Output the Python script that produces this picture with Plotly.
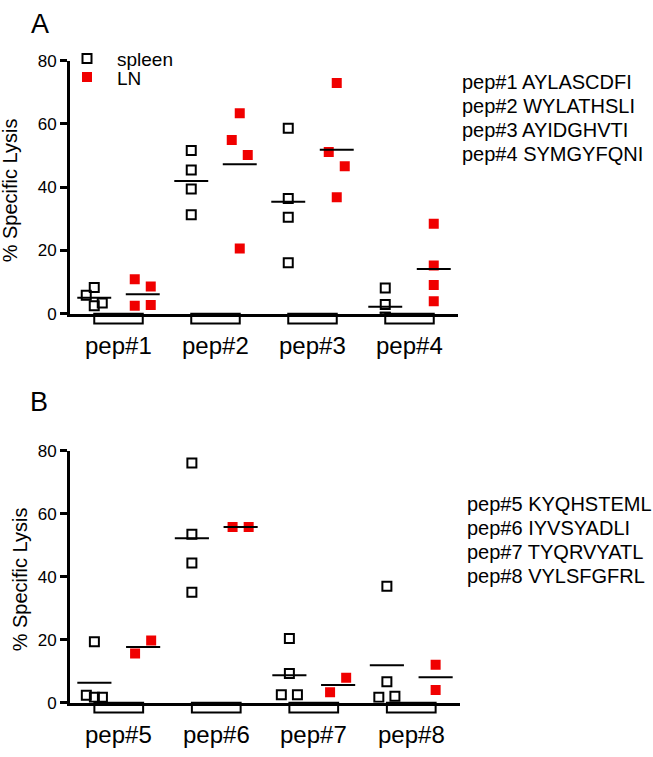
import plotly.graph_objects as go
import numpy as np

# ---------------- data ----------------
peptides_A = ["pep#1", "pep#2", "pep#3", "pep#4"]
peptides_B = ["pep#5", "pep#6", "pep#7", "pep#8"]
sequences_A = ["AYLASCDFI", "WYLATHSLI", "AYIDGHVTI", "SYMGYFQNI"]
sequences_B = ["KYQHSTEML", "IYVSYADLI", "TYQRVYATL", "VYLSFGFRL"]

spleen_A = [[5.8, 8.3, 2.5, 3.4], [51.6, 45.4, 39.4, 31.3],
            [58.6, 36.4, 30.5, 16.1], [8.1, 2.9, -1.1, -1.1]]
ln_A = [[10.9, 8.6, 2.5, 2.7], [63.4, 54.9, 50.2, 20.6],
        [72.9, 51.1, 46.6, 36.8], [28.4, 15.2, 9.1, 3.9]]
spleen_B = [[2.4, 19.4, 1.8, 1.8], [76.2, 53.5, 44.4, 35.1],
            [2.6, 20.4, 9.3, 2.6], [37.0, 6.7, 1.8, 2.1]]
ln_B = [[15.7, 19.8], [55.8, 55.8], [3.4, 8.0], [12.1, 4.1]]

# jitter slots (Prism-style scatter spreading of overlapping points)
spleen_A_jit = [[-1, 0, 0, 1], [0, 0, 0, 0], [0, 0, 0, 0], [0, 0, 0, 0]]
ln_A_jit = [[-1, 1, -1, 1], [0, -1, 1, 0], [0, -1, 1, 0], [0, 0, 0, 0]]
spleen_B_jit = [[-1, 0, 0, 1], [0, 0, 0, 0], [-1, 0, 0, 1], [0, 0, -1, 1]]
ln_B_jit = [[-1, 1], [-1, 1], [-1, 1], [0, 0]]

yticks = [0, 20, 40, 60, 80]

# ---------------- style ----------------
W, H = 653, 757
RED = "#f00000"
FONT = "Liberation Sans, Arial, sans-serif"
JSTEP = 0.165
MEAN_HALF = 0.35


def px_x(p):
    return p / W


def px_y(p):
    return 1 - p / H


fig = go.Figure()


def add_panel(xa, ya, spleen, ln, sj, lj, show_legend):
    xs, ys, xl, yl = [], [], [], []
    mx, my = [], []
    for g in range(len(spleen)):
        cs, cl = 2 * g, 2 * g + 1
        for v, j in zip(spleen[g], sj[g]):
            xs.append(cs + j * JSTEP)
            ys.append(v)
        for v, j in zip(ln[g], lj[g]):
            xl.append(cl + j * JSTEP)
            yl.append(v)
        for c, vals in ((cs, spleen[g]), (cl, ln[g])):
            m = float(np.mean(vals))
            mx += [c - MEAN_HALF, c + MEAN_HALF, None]
            my += [m, m, None]
    fig.add_trace(go.Scatter(
        x=xs, y=ys, mode="markers", name="spleen", xaxis=xa, yaxis=ya,
        marker=dict(symbol="square-open", size=9, color="black",
                    line=dict(width=2, color="black")),
        showlegend=show_legend, legend="legend"))
    fig.add_trace(go.Scatter(
        x=xl, y=yl, mode="markers", name="LN", xaxis=xa, yaxis=ya,
        marker=dict(symbol="square", size=10, color=RED, line=dict(width=0)),
        showlegend=show_legend, legend="legend2"))
    fig.add_trace(go.Scatter(
        x=mx, y=my, mode="lines", xaxis=xa, yaxis=ya, showlegend=False,
        line=dict(color="black", width=2), hoverinfo="skip"))


add_panel("x", "y", spleen_A, ln_A, spleen_A_jit, ln_A_jit, True)
add_panel("x2", "y2", spleen_B, ln_B, spleen_B_jit, ln_B_jit, False)

shapes, annotations = [], []
for xr, yr, peps in (("x", "y", peptides_A), ("x2", "y2", peptides_B)):
    for g, name in enumerate(peps):
        shapes.append(dict(type="rect", xref=xr, yref=yr + " domain",
                           x0=2 * g, x1=2 * g + 1, y0=-0.0386, y1=0,
                           line=dict(color="black", width=2),
                           fillcolor="rgba(0,0,0,0)", layer="above"))
        annotations.append(dict(text=name, xref=xr, yref=yr + " domain",
                                x=2 * g + 0.5, y=-0.125, showarrow=False,
                                xanchor="center", yanchor="middle",
                                font=dict(size=24, color="black", family=FONT)))

# peptide sequence lists
for peps, seqs, ys, xx in ((peptides_A, sequences_A, [75, 99.5, 124, 148.5], 460),
                           (peptides_B, sequences_B, [508, 532.5, 557, 581.5], 465)):
    for p, s, yy in zip(peps, seqs, ys):
        annotations.append(dict(text=f"{p} {s}", xref="paper", yref="paper",
                                x=px_x(xx), y=px_y(yy), showarrow=False,
                                xanchor="left", yanchor="middle",
                                font=dict(size=20, color="black", family=FONT)))

# panel letters
for letter, xx, yy in (("A", 40, 15), ("B", 39, 403)):
    annotations.append(dict(text=letter, xref="paper", yref="paper",
                            x=px_x(xx), y=px_y(yy), showarrow=False,
                            xanchor="center", yanchor="middle",
                            font=dict(size=27, color="black", family=FONT)))

# y titles
for xx, yy in ((10, 186), (20, 585)):
    annotations.append(dict(text="% Specific Lysis", xref="paper", yref="paper",
                            x=px_x(xx), y=px_y(yy), showarrow=False, textangle=-90,
                            xanchor="center", yanchor="middle",
                            font=dict(size=20, color="black", family=FONT)))

xaxis_common = dict(range=[-0.5, 7.5], showgrid=False, zeroline=False,
                    showline=True, linecolor="black", linewidth=3,
                    showticklabels=False, ticks="", fixedrange=True)
yaxis_common = dict(range=[0, 80], tickvals=yticks, showgrid=False, zeroline=False,
                    showline=True, linecolor="black", linewidth=3,
                    ticks="outside", ticklen=7, tickwidth=3, tickcolor="black",
                    tickfont=dict(size=17, color="black", family=FONT))

legend_common = dict(xanchor="left", yanchor="middle", bgcolor="rgba(0,0,0,0)",
                     font=dict(size=19, color="black", family=FONT),
                     itemwidth=50, tracegroupgap=0)

fig.update_layout(
    width=W, height=H,
    margin=dict(l=0, r=0, t=0, b=0),
    paper_bgcolor="white", plot_bgcolor="white",
    font=dict(family=FONT, color="black"),
    xaxis=dict(domain=[px_x(70), px_x(458)], anchor="y", **xaxis_common),
    yaxis=dict(domain=[px_y(312.5), px_y(53)], anchor="x", **yaxis_common),
    xaxis2=dict(domain=[px_x(70), px_x(460)], anchor="y2", **xaxis_common),
    yaxis2=dict(domain=[px_y(711.7), px_y(453.3)], anchor="x2", **yaxis_common),
    shapes=shapes,
    annotations=annotations,
    legend=dict(x=px_x(57), y=px_y(51), **legend_common),
    legend2=dict(x=px_x(57), y=px_y(70), **legend_common),
    showlegend=True,
)

fig.write_html("out.html", config={"displayModeBar": False},
               post_script="document.body.style.margin='0';")
